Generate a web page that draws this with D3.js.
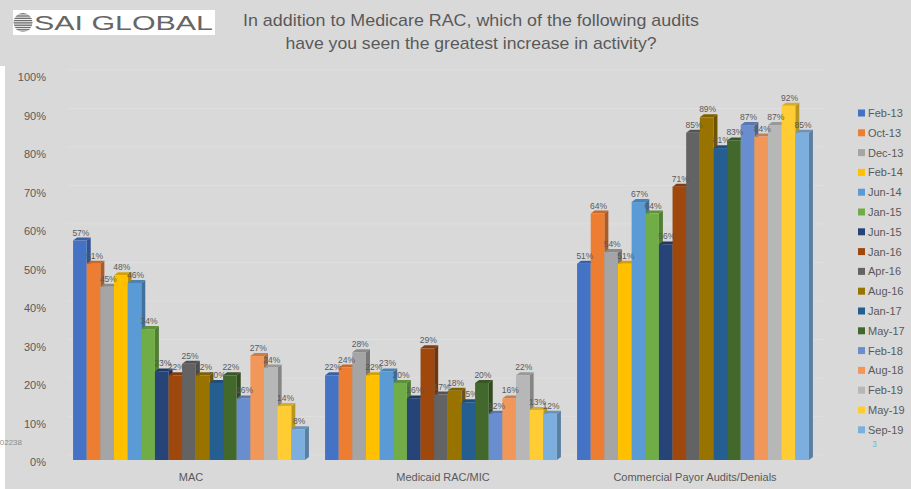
<!DOCTYPE html>
<html>
<head>
<meta charset="utf-8">
<script src="https://cdn.jsdelivr.net/npm/d3@7"></script>
<style>
  body { margin: 0; background: #d9d9d9; }
  text { font-family: "Liberation Sans", Arial, sans-serif; }
</style>
</head>
<body>
<div id="chart"></div>
<script>
// chart data
var categories = ["MAC", "Medicaid RAC/MIC", "Commercial Payor Audits/Denials"];
var seriesNames = ["Feb-13", "Oct-13", "Dec-13", "Feb-14", "Jun-14", "Jan-15", "Jun-15", "Jan-16",
                   "Apr-16", "Aug-16", "Jan-17", "May-17", "Feb-18", "Aug-18", "Feb-19", "May-19", "Sep-19"];
var seriesColors = ["#4472C4", "#ED7D31", "#A5A5A5", "#FFC000", "#5B9BD5", "#70AD47", "#264478", "#9E480E",
                    "#636363", "#997300", "#255E91", "#43682B", "#698ED0", "#F1975A", "#B7B7B7", "#FFCD33", "#7CAFDD"];
var macValues        = [57, 51, 45, 48, 46, 34, 23, 22, 25, 22, 20, 22, 16, 27, 24, 14, 8];
var medicaidValues   = [22, 24, 28, 22, 23, 20, 16, 29, 17, 18, 15, 20, 12, 16, 22, 13, 12];
var commercialValues = [51, 64, 54, 51, 67, 64, 56, 71, 85, 89, 81, 83, 87, 84, 87, 92, 85];
var yTicks = [0, 10, 20, 30, 40, 50, 60, 70, 80, 90, 100];

var valuesByCategory = [macValues, medicaidValues, commercialValues];

var W = 911, H = 489;
var svg = d3.select("#chart").append("svg")
    .attr("width", W)
    .attr("height", H);

// background + white strip on the left
svg.append("rect").attr("width", W).attr("height", H).attr("fill", "#d9d9d9");
svg.append("rect").attr("x", 0).attr("y", 66).attr("width", 5).attr("height", H - 66).attr("fill", "#ffffff");

// logo
var logo = svg.append("g");
logo.append("rect").attr("x", 13).attr("y", 10).attr("width", 202).attr("height", 25).attr("fill", "#ffffff");
logo.append("clipPath").attr("id", "globe")
  .append("circle").attr("cx", 23).attr("cy", 22.5).attr("r", 9.5);
var stripes = logo.append("g").attr("clip-path", "url(#globe)");
d3.range(13, 33, 2.3).forEach(function(yy) {
  stripes.append("rect").attr("x", 13).attr("y", yy).attr("width", 20).attr("height", 1.4).attr("fill", "#6e6e6e");
});
logo.append("text")
  .attr("x", 34).attr("y", 30)
  .attr("font-size", 20)
  .attr("textLength", 179)
  .attr("lengthAdjust", "spacingAndGlyphs")
  .attr("fill", "#666666")
  .text("SAI GLOBAL");

// title
var titleLines = [
  {text: "In addition to Medicare RAC, which of the following audits", y: 26, w: 456},
  {text: "have you seen the greatest increase in activity?", y: 49, w: 371}
];
svg.append("g").selectAll("text")
  .data(titleLines)
  .join("text")
    .attr("x", function(d) { return 471 - d.w / 2; })
    .attr("y", function(d) { return d.y; })
    .attr("textLength", function(d) { return d.w; })
    .attr("lengthAdjust", "spacingAndGlyphs")
    .attr("font-size", 17)
    .attr("fill", "#595959")
    .text(function(d) { return d.text; });

// scales
var y = d3.scaleLinear().domain([0, 100]).range([460, 75]);
var x0 = d3.scaleBand().domain(categories).range([63, 819]).paddingInner(0.08).paddingOuter(0.04);
var x1 = d3.scaleBand().domain(seriesNames).range([0, x0.bandwidth()]);
var color = d3.scaleOrdinal().domain(seriesNames).range(seriesColors);

var dx = 4, dy = 3;

// faint gridlines on the back wall
svg.append("g").selectAll("line")
  .data(yTicks)
  .join("line")
    .attr("x1", 63 + dx).attr("x2", 826)
    .attr("y1", function(d) { return y(d) - dy - 2; })
    .attr("y2", function(d) { return y(d) - dy - 2; })
    .attr("stroke", "#dedede")
    .attr("stroke-width", 1);

// y axis
var yAxis = svg.append("g")
  .attr("transform", "translate(49,2)")
  .call(d3.axisLeft(y).tickValues(yTicks).tickSize(0).tickFormat(function(d) { return d + "%"; }));
yAxis.select(".domain").remove();
yAxis.selectAll("text").attr("fill", "#595959").attr("font-size", 11)
  .style("font-family", "'Liberation Sans', Arial, sans-serif");

// bars
categories.forEach(function(cat, ci) {
  var g = svg.append("g").attr("transform", "translate(" + x0(cat) + ",0)");
  var vals = valuesByCategory[ci];
  seriesNames.forEach(function(name, si) {
    var v = vals[si];
    var xl = x1(name), xr = xl + x1.bandwidth();
    var yt = y(v), yb = y(0);
    var c = color(name);
    g.append("polygon")
      .attr("points", [[xr, yt], [xr + dx, yt - dy], [xr + dx, yb - dy], [xr, yb]].join(" "))
      .attr("fill", d3.color(c).darker(0.9));
    g.append("polygon")
      .attr("points", [[xl, yt], [xl + dx, yt - dy], [xr + dx, yt - dy], [xr, yt]].join(" "))
      .attr("fill", d3.color(c).darker(0.5));
    g.append("rect")
      .attr("x", xl).attr("y", yt)
      .attr("width", x1.bandwidth()).attr("height", yb - yt)
      .attr("fill", c);
  });
  // data labels
  g.selectAll("text.lbl")
    .data(vals)
    .join("text")
      .attr("class", "lbl")
      .attr("x", function(d, i) { return x1(seriesNames[i]) + x1.bandwidth() / 2 + 1; })
      .attr("y", function(d) { return y(d) - 5; })
      .attr("text-anchor", "middle")
      .attr("font-size", 8.5)
      .attr("fill", "#595959")
      .text(function(d) { return d + "%"; });
});

// category labels
svg.append("g").selectAll("text")
  .data(categories)
  .join("text")
    .attr("x", function(d) { return x0(d) + x0.bandwidth() / 2 + 2; })
    .attr("y", 481)
    .attr("text-anchor", "middle")
    .attr("font-size", 11)
    .attr("fill", "#595959")
    .text(function(d) { return d; });

// legend
var legend = svg.append("g").selectAll("g")
  .data(seriesNames)
  .join("g")
    .attr("transform", function(d, i) { return "translate(858," + (109.5 + i * 19.8) + ")"; });
legend.append("rect").attr("width", 7).attr("height", 7).attr("fill", function(d) { return color(d); });
legend.append("text")
  .attr("x", 10).attr("y", 7.5)
  .attr("font-size", 11)
  .attr("fill", "#595959")
  .text(function(d) { return d; });

// stray bits of text in the original
svg.append("text").attr("x", 22).attr("y", 445).attr("text-anchor", "end")
  .attr("font-size", 8).attr("fill", "#8c8c8c").text("02238");
svg.append("text").attr("x", 872).attr("y", 447)
  .attr("font-size", 8.5).attr("fill", "#5bc0de").text("3");
</script>
</body>
</html>
